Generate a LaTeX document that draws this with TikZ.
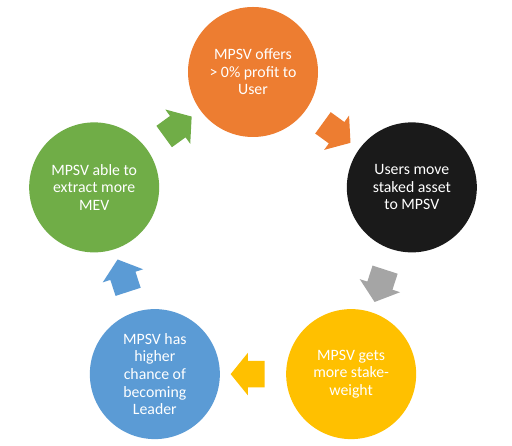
\documentclass[tikz,border=0pt]{standalone}
\usepackage{fontspec}
\setmainfont{Carlito}
\usetikzlibrary{shapes.arrows,calc}
\begin{document}
\begin{tikzpicture}[x=1pt,y=1pt,
  stage/.style={circle,fill=#1,draw=none,minimum size=130pt,inner sep=0pt,
    text=white,align=center,font=\fontsize{15.8}{17.6}\selectfont},
  cyclearrow/.style={single arrow,fill=#1,draw=none,inner sep=0pt,
    text height=13pt,text depth=13pt,minimum height=34pt,
    single arrow head extend=8pt,single arrow tip angle=102}]
\definecolor{fillColor}{RGB}{255,255,255}
\definecolor{offerColor}{RGB}{237,125,49}
\definecolor{moveColor}{RGB}{26,26,26}
\definecolor{moveArrowColor}{RGB}{165,165,165}
\definecolor{weightColor}{RGB}{255,192,0}
\definecolor{leaderColor}{RGB}{91,155,213}
\definecolor{mevColor}{RGB}{112,173,71}
\path[use as bounding box,fill=fillColor] (0,0) rectangle (512,446);
\coordinate (hub) at (253,207);

\node[stage=offerColor] (offer) at ($(hub)+(90:167)$) {MPSV offers\\> 0\% profit to\\User};
\node[stage=moveColor] (move) at ($(hub)+(18:167)$) {Users move\\staked asset\\to MPSV};
\node[stage=weightColor] (weight) at ($(hub)+(-54:167)$) {MPSV gets\\more stake-\\weight};
\node[stage=leaderColor] (leader) at ($(hub)+(-126:167)$) {MPSV has\\higher\\chance of\\becoming\\Leader};
\node[stage=mevColor] (mev) at ($(hub)+(162:167)$) {MPSV able to\\extract more\\MEV};

\node[cyclearrow=offerColor,rotate=-36] (offerArrow) at ($(offer)!0.5!(move)$) {};
\node[cyclearrow=moveArrowColor,rotate=-108] (moveArrow) at ($(move)!0.5!(weight)$) {};
\node[cyclearrow=weightColor,rotate=180] (weightArrow) at ($(weight)!0.5!(leader)$) {};
\node[cyclearrow=leaderColor,rotate=108] (leaderArrow) at ($(leader)!0.5!(mev)$) {};
\node[cyclearrow=mevColor,rotate=36] (mevArrow) at ($(mev)!0.5!(offer)$) {};
\end{tikzpicture}
\end{document}
